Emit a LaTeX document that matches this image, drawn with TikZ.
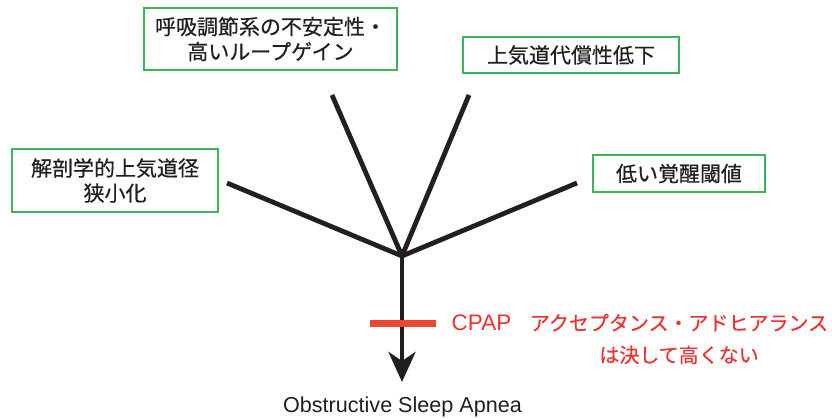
\documentclass[tikz,border=0pt]{standalone}
\usepackage{fontspec}
\setmainfont{Liberation Sans}
\newfontfamily\jp{Noto Sans CJK JP}[FakeBold=0.5]
\usetikzlibrary{arrows.meta}
\definecolor{boxgreen}{RGB}{60,180,90}
\definecolor{ink}{RGB}{35,31,32}
\definecolor{barred}{RGB}{234,72,52}
\definecolor{txtred}{RGB}{236,50,50}
\tikzset{
  box/.style={draw=boxgreen, line width=2pt, fill=white, inner sep=0pt, align=center,
    text=ink, font=\jp\fontsize{21}{25}\selectfont},
  stem/.style={draw=ink, line width=4.8pt},
  lbl/.style={inner sep=0pt, align=center}
}
\begin{document}
\begin{tikzpicture}[x=1pt,y=-1pt]
\useasboundingbox (0,0) rectangle (832,419);
% boxes
\node[box, minimum width=253pt, minimum height=62pt] (b1) at (270.5,39) {呼吸調節系の不安定性・\\高いループゲイン};
\node[box, minimum width=216pt, minimum height=36pt] (b2) at (571,55) {上気道代償性低下};
\node[box, minimum width=206pt, minimum height=63pt] (b3) at (115,180.5) {解剖学的上気道径\\狭小化};
\node[box, minimum width=172pt, minimum height=37pt] (b4) at (679,173.5) {低い覚醒閾値};
% branch ends and junction
\coordinate (j) at (402,256);
\coordinate (e1) at (332,95);
\coordinate (e2) at (469,95);
\coordinate (e3) at (227,183);
\coordinate (e4) at (577,183);
\draw[stem] (e3) -- (j);
\draw[stem] (e1) -- (j);
\draw[stem] (e2) -- (j);
\draw[stem] (e4) -- (j);
% outcome
\node[lbl, text=ink, font=\fontsize{21.6}{26}\selectfont] (osa) at (402.5,407) {Obstructive Sleep Apnea};
\coordinate (tip) at (402,382);
\draw[stem, -{Stealth[length=30pt, width=27pt, inset=9pt]}] (j) -- (tip);
% CPAP bar
\node[fill=barred, inner sep=0pt, minimum width=66pt, minimum height=7pt] (bar) at (403,323.5) {};
\node[lbl, text=txtred, font=\fontsize{22.5}{26}\selectfont] (cpap) at (481.5,323) {CPAP};
\node[lbl, text=txtred, font=\jp\fontsize{20}{32}\selectfont] (note) at (679,339) {アクセプタンス・アドヒアランス\\は決して高くない};
\end{tikzpicture}
\end{document}
